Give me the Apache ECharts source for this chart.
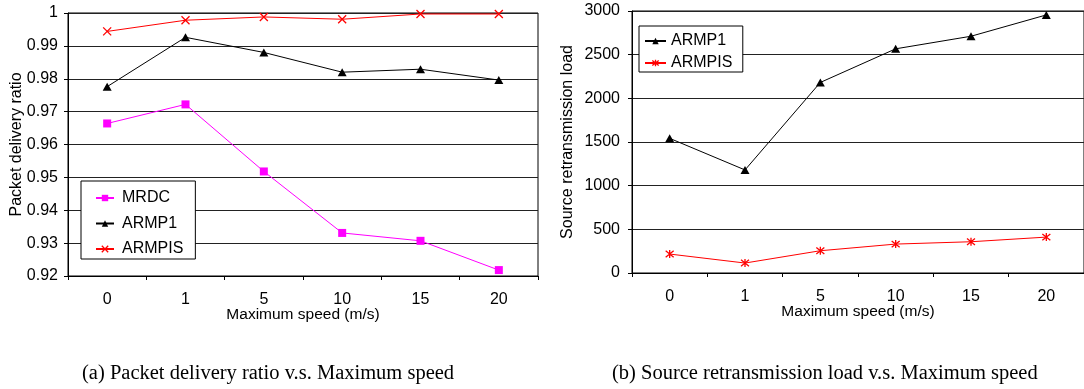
<!DOCTYPE html>
<html>
<head>
<meta charset="utf-8">
<script src="https://cdn.jsdelivr.net/npm/echarts@6/dist/echarts.min.js"></script>
<style>
html,body{margin:0;padding:0;background:#fff;}
#c{width:1084px;height:389px;}
</style>
</head>
<body>
<div id="c"></div>
<script>
// ---- data ----
const categories = ['0', '1', '5', '10', '15', '20'];
const mrdcPdr   = [0.9664, 0.9722, 0.9518, 0.9331, 0.9307, 0.9218];
const armp1Pdr  = [0.9776, 0.9926, 0.9880, 0.9820, 0.9829, 0.9796];
const armpisPdr = [0.9944, 0.9978, 0.9988, 0.9981, 0.9997, 0.9997];
const armp1Load  = [1542, 1180, 2182, 2567, 2711, 2955];
const armpisLoad = [217, 114, 255, 331, 358, 411];
const captionA = '(a) Packet delivery ratio v.s. Maximum speed';
const captionB = '(b) Source retransmission load v.s. Maximum speed';

const FONT = 'Liberation Sans, Arial, sans-serif';
const crossPath = 'path://M0,0L10,10M10,0L0,10';
const starPath = 'path://M5,0L5,10M1,1L9,9M1,9L9,1';
const hollowRed = {color: 'rgba(0,0,0,0)', borderColor: '#ff0000', borderWidth: 1.3};

const chart = echarts.init(document.getElementById('c'), null, {renderer: 'canvas'});

function xAxis(gi) {
  return {
    type: 'category', gridIndex: gi, data: categories, boundaryGap: true,
    axisLine: {lineStyle: {color: '#000', width: 1}},
    axisTick: {show: true, length: 4, inside: false, alignWithLabel: false, lineStyle: {color: '#000'}},
    axisLabel: {color: '#000', fontFamily: FONT, fontSize: 16, margin: 16},
    name: 'Maximum speed (m/s)', nameLocation: 'middle', nameGap: 31, nameMoveOverlap: false,
    nameTextStyle: {color: '#000', fontFamily: FONT, fontSize: 15.5, lineHeight: 16}
  };
}

const option = {
  animation: false,
  backgroundColor: '#fff',
  grid: [
    {left: 68, top: 13, width: 470, height: 263, show: true, borderColor: '#000', borderWidth: 1},
    {left: 632, top: 11, width: 460, height: 262, show: true, borderColor: '#000', borderWidth: 1}
  ],
  xAxis: [xAxis(0), xAxis(1)],
  yAxis: [
    {
      type: 'value', gridIndex: 0, min: 0.92, max: 1, interval: 0.01,
      axisLine: {show: true, lineStyle: {color: '#000'}},
      axisTick: {show: true, length: 4, lineStyle: {color: '#000'}},
      splitLine: {show: true, lineStyle: {color: '#222', width: 1}},
      axisLabel: {color: '#000', fontFamily: FONT, fontSize: 16, margin: 10,
        formatter: v => String(+(+v).toFixed(2))},
      name: 'Packet delivery ratio', nameLocation: 'middle', nameGap: 43, nameMoveOverlap: false,
      nameTextStyle: {color: '#000', fontFamily: FONT, fontSize: 16}
    },
    {
      type: 'value', gridIndex: 1, min: 0, max: 3000, interval: 500,
      axisLine: {show: true, lineStyle: {color: '#000'}},
      axisTick: {show: true, length: 4, lineStyle: {color: '#000'}},
      splitLine: {show: true, lineStyle: {color: '#222', width: 1}},
      axisLabel: {color: '#000', fontFamily: FONT, fontSize: 16, margin: 12,
        formatter: v => String(Math.round(v))},
      name: 'Source retransmission load', nameLocation: 'middle', nameGap: 56, nameMoveOverlap: false,
      nameTextStyle: {color: '#000', fontFamily: FONT, fontSize: 16}
    }
  ],
  legend: [
    {
      left: 81, top: 181, orient: 'vertical', itemGap: 9.5, itemWidth: 18, itemHeight: 8,
      padding: [9, 12, 2, 14], borderColor: '#000', borderWidth: 1, backgroundColor: '#fff',
      textStyle: {color: '#000', fontFamily: FONT, fontSize: 16, lineHeight: 16, padding: [0, 0, 0, 3]},
      data: ['MRDC', 'ARMP1', {name: 'ARMPIS', itemStyle: hollowRed}]
    },
    {
      left: 639, top: 26, orient: 'vertical', itemGap: 6, itemWidth: 21, itemHeight: 8,
      padding: [7, 6, 1, 5], borderColor: '#000', borderWidth: 1, backgroundColor: '#fff',
      textStyle: {color: '#000', fontFamily: FONT, fontSize: 16, lineHeight: 16},
      data: ['ARMP1 ', {name: 'ARMPIS ', itemStyle: hollowRed}]
    }
  ],
  series: [
    {
      name: 'MRDC', type: 'line', xAxisIndex: 0, yAxisIndex: 0, data: mrdcPdr,
      symbol: 'rect', symbolSize: 8, showAllSymbol: true,
      lineStyle: {color: '#ff00ff', width: 1}, itemStyle: {color: '#ff00ff'}
    },
    {
      name: 'ARMP1', type: 'line', xAxisIndex: 0, yAxisIndex: 0, data: armp1Pdr,
      symbol: 'triangle', symbolSize: [9, 8], showAllSymbol: true,
      lineStyle: {color: '#000', width: 1}, itemStyle: {color: '#000'}
    },
    {
      name: 'ARMPIS', type: 'line', xAxisIndex: 0, yAxisIndex: 0, data: armpisPdr,
      symbol: crossPath, symbolSize: 8, showAllSymbol: true,
      lineStyle: {color: '#ff0000', width: 1}, itemStyle: hollowRed
    },
    {
      name: 'ARMP1 ', type: 'line', xAxisIndex: 1, yAxisIndex: 1, data: armp1Load,
      symbol: 'triangle', symbolSize: [9, 8], showAllSymbol: true,
      lineStyle: {color: '#000', width: 1}, itemStyle: {color: '#000'}
    },
    {
      name: 'ARMPIS ', type: 'line', xAxisIndex: 1, yAxisIndex: 1, data: armpisLoad,
      symbol: starPath, symbolSize: 8, showAllSymbol: true,
      lineStyle: {color: '#ff0000', width: 1}, itemStyle: hollowRed
    }
  ],
  graphic: [
    {type: 'text', left: 82, top: 363,
      style: {text: captionA, fill: '#000', font: '20.5px "Liberation Serif", "Times New Roman", serif'}},
    {type: 'text', left: 612, top: 363,
      style: {text: captionB, fill: '#000', font: '20.5px "Liberation Serif", "Times New Roman", serif'}}
  ]
};
chart.setOption(option);
</script>
</body>
</html>
